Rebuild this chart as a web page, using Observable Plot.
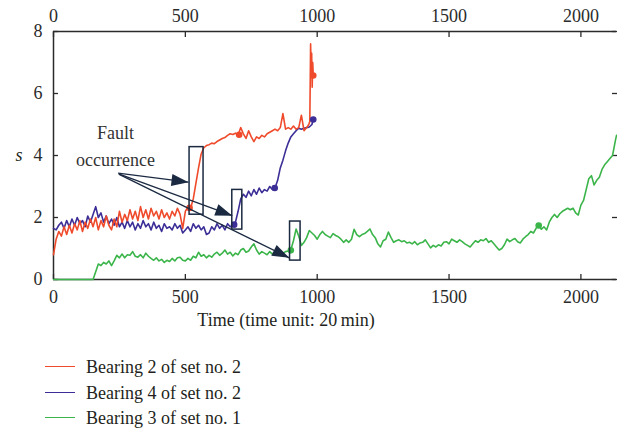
<!DOCTYPE html>
<html><head><meta charset="utf-8">
<script src="https://cdn.jsdelivr.net/npm/d3@7"></script>
<script src="https://cdn.jsdelivr.net/npm/@observablehq/plot@0.6"></script>
<style>
body{margin:0;background:#fff;font-family:"Liberation Serif",serif;color:#231f20}
#legend{position:relative;height:94px;width:617px}
.sw{position:absolute;left:45px;width:30px;height:0;border-top:1.5px solid}
.lab{position:absolute;left:86px;white-space:nowrap;font-size:18px;line-height:24px;height:24px}
</style></head><body><div id="chart"></div><div id="legend"></div>
<script>
// ---- data (time unit: 20 min) ----
const xTicks = [0, 500, 1000, 1500, 2000];
const yTicks = [0, 2, 4, 6, 8];
const seriesNames = ["Bearing 2 of set no. 2", "Bearing 4 of set no. 2", "Bearing 3 of set no. 1"];
const seriesColors = ["#ef4a2b", "#3b2e97", "#3bb54a"];
const sampleStep = 10; // values below are read every 10 time units

const redValues = [
  0.8,1.3,1.55,1.4,1.7,1.45,1.75,1.5,1.8,1.6,
  1.9,1.55,1.85,1.65,1.95,1.7,2.0,1.6,1.9,1.7,
  2.05,1.75,1.6,1.95,1.7,2.2,1.85,2.1,1.9,2.25,
  1.95,2.2,1.9,2.35,2.0,2.25,1.95,2.3,2.05,2.2,
  1.95,2.25,2.0,2.15,1.95,2.2,2.05,2.3,2.1,1.65,
  2.2,2.35,2.3,2.6,3.1,3.6,4.05,4.25,4.32,4.35,
  4.4,4.38,4.45,4.5,4.55,4.58,4.65,4.7,4.68,4.72,
  4.65,4.9,4.7,4.55,4.8,4.6,4.45,4.6,4.55,4.65,
  4.6,4.7,4.75,4.8,4.85,4.8,4.9,5.35,4.85,4.9,
  4.85,4.95,4.85,4.9,5.3,4.8,4.9
];
const redTail = [[968,5.0],[972,5.1],[975,7.6],[977,6.8],[979,7.3],[981,6.2],[983,7.0],[985,6.6]];

const blueValues = [
  1.65,1.6,1.75,1.85,1.65,1.9,1.7,1.95,1.75,2.0,
  1.8,1.9,1.7,2.05,1.85,2.1,2.35,2.0,2.15,1.85,
  2.05,1.8,1.95,1.75,2.0,1.7,1.85,1.65,1.9,1.7,
  1.85,1.6,1.8,1.65,1.9,1.7,1.8,1.6,1.85,1.65,
  1.75,1.55,1.8,1.65,1.7,1.6,1.8,1.65,1.75,1.5,
  1.6,1.7,1.55,1.8,1.65,1.75,1.6,1.7,1.45,1.5,
  1.7,1.6,1.8,1.65,1.75,1.6,1.8,1.7,1.75,1.85,
  2.2,2.6,2.75,2.65,2.85,2.7,2.9,2.75,2.95,2.8,
  2.9,2.85,3.0,2.9,2.95,3.2,3.6,3.85,4.15,4.4,
  4.6,4.7,4.8,4.88,4.85,4.88,4.9
];
const blueTail = [[970,4.92],[980,5.0],[985,5.16]];

const greenValues = [
  0,0,0,0,0,0,0,0,0,0,
  0,0,0,0,0,0,0.25,0.5,0.45,0.55,
  0.5,0.6,0.45,0.6,0.78,0.7,0.82,0.7,0.8,0.78,
  0.9,0.75,0.72,0.8,0.7,0.85,0.75,0.68,0.62,0.7,
  0.6,0.65,0.55,0.62,0.58,0.68,0.6,0.7,0.72,0.62,
  0.6,0.68,0.62,0.75,0.7,0.88,0.75,0.8,0.7,0.78,
  0.72,0.82,0.88,0.78,0.85,0.95,0.82,0.88,0.76,0.85,
  0.8,0.95,1.0,0.88,0.92,1.05,1.15,0.95,0.82,0.9,
  0.85,0.8,0.9,0.82,0.9,0.85,0.78,0.85,0.9,0.92,
  0.96,1.25,1.63,1.4,1.1,1.2,1.35,1.58,1.5,1.42,
  1.3,1.45,1.55,1.45,1.4,1.35,1.48,1.42,1.38,1.3,
  1.2,1.28,1.2,1.3,1.62,1.45,1.38,1.45,1.48,1.55,
  1.63,1.45,1.35,1.15,1.05,1.25,1.3,1.53,1.35,1.2,
  1.25,1.28,1.22,1.25,1.18,1.2,1.15,1.22,1.12,1.18,
  1.2,1.28,1.15,1.02,1.1,1.05,1.12,1.08,1.2,1.22,
  1.15,1.3,1.25,1.2,1.28,1.22,1.15,1.1,1.05,1.15,
  1.25,1.2,1.28,1.25,1.32,1.2,1.25,1.15,1.05,0.95,
  1.0,1.12,1.3,1.22,1.28,1.32,1.22,1.18,1.3,1.38,
  1.45,1.55,1.5,1.65,1.75,1.62,1.7,1.6,1.85,2.0,
  2.1,2.0,2.12,2.2,2.25,2.3,2.25,2.3,2.15,2.08,
  2.4,2.55,2.9,3.25,3.35,3.05,3.2,3.3,3.55,3.7,
  3.8,3.9,4.0,4.45
];
const greenTail = [[2135,4.65]];

// marked points on the curves
const redDots = [[516,2.31],[704,4.67],[985,6.58]];
const blueDots = [[685,1.77],[839,2.95],[985,5.16]];
const greenDots = [[900,0.94],[1840,1.74]];

// fault-occurrence boxes [t1, t2, s1, s2]
const faultBoxes = [[516,569,2.09,4.27],[678,716,1.61,2.89],[897,937,0.61,1.87]];
// annotation arrows [tStart, sStart, tEnd, sEnd]
const faultArrows = [[245,3.43,512,3.14],[247,3.41,678,2.06],[249,3.39,894,0.70]];
const annotationText = [[235,4.71,"Fault"],[235,3.84,"occurrence"]];
const xLabel = "Time (time unit: 20\u2009min)";
const yLabel = "s";

// ---- build tables ----
function rows(values, tail, k) {
  return values.map((v, i) => ({t: i * sampleStep, v, k}))
    .concat(tail.map(([t, v]) => ({t, v, k})));
}
const red = rows(redValues, redTail, 0);
const blue = rows(blueValues, blueTail, 1);
const green = rows(greenValues, greenTail, 2);
const pts = (arr, k) => arr.map(([t, v]) => ({t, v, k}));
const dots = [...pts(greenDots, 2), ...pts(blueDots, 1), ...pts(redDots, 0)];
const boxes = faultBoxes.map(([t1, t2, s1, s2]) => ({t1, t2, s1, s2}));
const arrows = faultArrows.map(([t1, s1, t2, s2]) => ({t1, s1, t2, s2}));
const notes = annotationText.map(([t, v, txt]) => ({t, v, txt}));

const navy = "#1b2a41";
const axisColor = "#2b2b2b";
const fmt = d => String(d);

const chart = Plot.plot({
  width: 617,
  height: 340,
  marginLeft: 53,
  marginRight: 1,
  marginTop: 31,
  marginBottom: 61,
  style: {fontFamily: "'Liberation Serif', serif", fontSize: "18px", color: axisColor, background: "#fff"},
  x: {domain: [0, 2135]},
  y: {domain: [0, 8]},
  marks: [
    Plot.ruleY([0, 8], {stroke: axisColor, strokeWidth: 1.5}),
    Plot.ruleX([0], {stroke: axisColor, strokeWidth: 1.5}),
    Plot.axisX({anchor: "bottom", ticks: xTicks, tickFormat: fmt, tickSize: -5, tickPadding: 16, label: null, strokeWidth: 1.3, fontFamily: "'Liberation Serif', serif", fontSize: 18}),
    Plot.axisX({anchor: "top", ticks: xTicks, tickFormat: fmt, tickSize: -5, tickPadding: 15, label: null, strokeWidth: 1.3, fontFamily: "'Liberation Serif', serif", fontSize: 18}),
    Plot.axisY({anchor: "left", ticks: yTicks, tickFormat: fmt, tickSize: -5, tickPadding: 16, label: null, strokeWidth: 1.3, fontFamily: "'Liberation Serif', serif", fontSize: 18}),
    Plot.axisY({anchor: "right", ticks: yTicks, tickSize: -5, tickFormat: () => "", label: null, strokeWidth: 1.3}),
    Plot.line(green, {x: "t", y: "v", stroke: seriesColors[2], strokeWidth: 1.6}),
    Plot.line(blue, {x: "t", y: "v", stroke: seriesColors[1], strokeWidth: 1.6}),
    Plot.line(red, {x: "t", y: "v", stroke: seriesColors[0], strokeWidth: 1.6}),
    Plot.dot(dots, {x: "t", y: "v", r: 3.3, fill: d => seriesColors[d.k], stroke: null}),
    Plot.rect(boxes, {x1: "t1", x2: "t2", y1: "s1", y2: "s2", fill: "none", stroke: navy, strokeWidth: 1.5}),
    Plot.link(arrows, {
      x1: "t1", y1: "s1", x2: "t2", y2: "s2", stroke: navy, strokeWidth: 1.3,
      render(index, scales, values, dimensions, context, next) {
        const g = next(index, scales, values, dimensions, context);
        const X1 = values.x1, Y1 = values.y1, X2 = values.x2, Y2 = values.y2;
        for (const i of index) {
          const dx = X2[i] - X1[i], dy = Y2[i] - Y1[i], len = Math.hypot(dx, dy);
          const ux = dx / len, uy = dy / len, L = 17, W = 6;
          const bx = X2[i] - ux * L, by = Y2[i] - uy * L;
          const p = document.createElementNS("http://www.w3.org/2000/svg", "polygon");
          p.setAttribute("points", `${X2[i]},${Y2[i]} ${bx - uy * W},${by + ux * W} ${bx + uy * W},${by - ux * W}`);
          p.setAttribute("fill", navy);
          p.setAttribute("stroke", "none");
          g.appendChild(p);
        }
        return g;
      }
    }),
    Plot.text(notes, {x: "t", y: "v", text: "txt", fontSize: 18, fill: "#333"}),
    Plot.text([{t: 882}], {x: "t", text: () => xLabel, frameAnchor: "bottom", dy: 46, fontSize: 18, fill: "#231f20"}),
    Plot.text([{v: 4}], {y: "v", text: () => yLabel, frameAnchor: "left", dx: -38, fontSize: 18, fontStyle: "italic", fill: "#231f20"})
  ]
});
document.getElementById("chart").appendChild(chart);

const legend = document.getElementById("legend");
const centers = [27, 53, 78];
seriesNames.forEach((name, i) => {
  const sw = document.createElement("div");
  sw.className = "sw";
  sw.style.borderTopColor = seriesColors[i];
  sw.style.top = (centers[i] - 0.75) + "px";
  legend.appendChild(sw);
  const lab = document.createElement("div");
  lab.className = "lab";
  lab.textContent = name;
  lab.style.top = (centers[i] - 12) + "px";
  legend.appendChild(lab);
});
</script></body></html>
